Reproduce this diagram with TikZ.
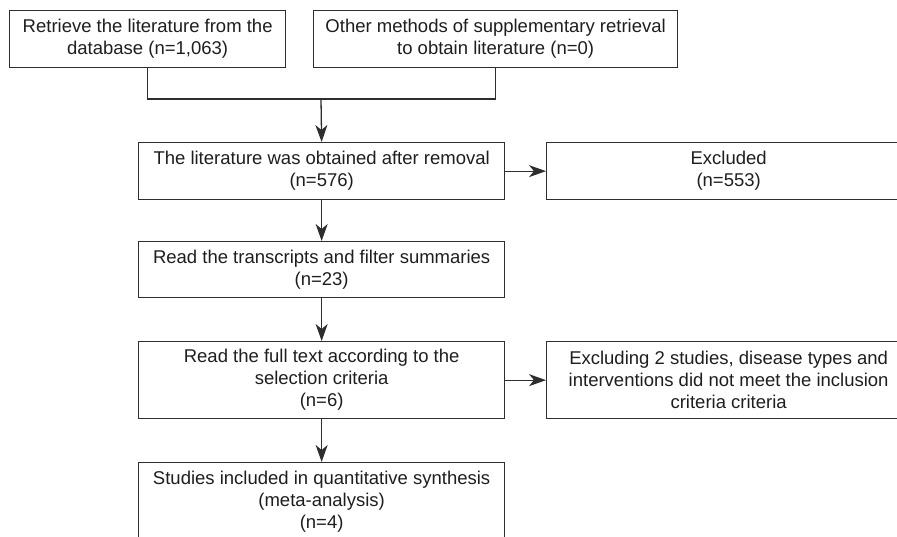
\documentclass[tikz,border=0pt]{standalone}
\usepackage{fontspec}
\setmainfont{Liberation Sans}
\usetikzlibrary{arrows.meta}
\definecolor{lineclr}{HTML}{2E2E2E}
\definecolor{txtclr}{HTML}{1E1E1E}
\begin{document}
\begin{tikzpicture}[x=1pt,y=-1pt,
  box/.style={draw=lineclr, line width=1.3pt, rectangle, inner sep=0pt, align=center,
    anchor=north west, font=\fontsize{18.5}{22}\selectfont, text=txtclr},
  conn/.style={draw=lineclr, line width=1.3pt},
  arr/.style={draw=lineclr, line width=1.3pt, -{Stealth[length=17pt,width=12pt,inset=5pt]}}]
\useasboundingbox (0,0) rectangle (897,536);
\clip (0,0) rectangle (897,536);
\node[box, minimum width=276pt, minimum height=57pt] (b1) at (9,10)
  {Retrieve the literature from the\\database (n=1,063)};
\node[box, minimum width=364pt, minimum height=57pt] (b2) at (313,10)
  {Other methods of supplementary retrieval\\to obtain literature (n=0)};
\node[box, minimum width=366pt, minimum height=57pt] (b3) at (138,142)
  {The literature was obtained after removal\\(n=576)};
\node[box, minimum width=364pt, minimum height=57pt] (ex1) at (546,142)
  {Excluded\\(n=553)};
\node[box, minimum width=366pt, minimum height=56pt] (b4) at (138,241)
  {Read the transcripts and filter summaries\\(n=23)};
\node[box, minimum width=366pt, minimum height=77pt] (b5) at (138,341)
  {Read the full text according to the\\selection criteria\\(n=6)};
\node[box, minimum width=364pt, minimum height=77pt] (ex2) at (546,341)
  {Excluding 2 studies, disease types and\\interventions did not meet the inclusion\\criteria criteria};
\node[box, minimum width=366pt, minimum height=78pt] (b6) at (138,462)
  {Studies included in quantitative synthesis\\(meta-analysis)\\(n=4)};
\coordinate (j) at (321,99);
\draw[conn] (b1.south) |- (j) -| (b2.south);
\draw[arr] (j) -- (b3.north);
\draw[arr] (b3.east) -- (ex1.west);
\draw[arr] (b3.south) -- (b4.north);
\draw[arr] (b4.south) -- (b5.north);
\draw[arr] (b5.east) -- (ex2.west);
\draw[arr] (b5.south) -- (b6.north);
\end{tikzpicture}
\end{document}
